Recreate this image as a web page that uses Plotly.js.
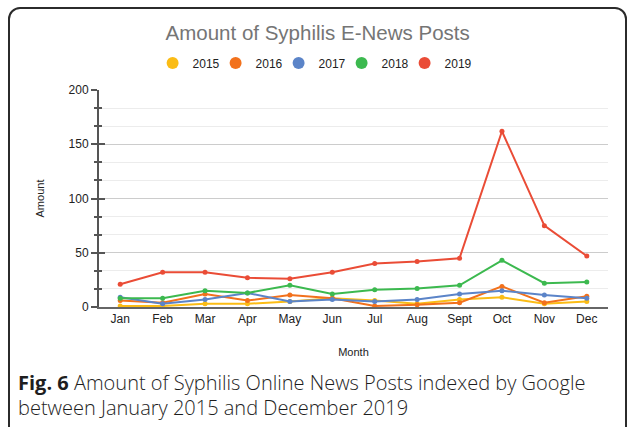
<!DOCTYPE html>
<html>
<head>
<meta charset="utf-8">
<script src="https://cdn.plot.ly/plotly-3.0.1.min.js"></script>
<style>
  html, body { margin: 0; padding: 0; background: #fff; width: 629px; height: 427px; overflow: hidden; }
  #frame { position: absolute; left: 8px; top: 7px; width: 619px; height: 470px; border: 2px solid #2b2b2b; border-radius: 12px; box-sizing: border-box; }
  #chart { position: absolute; left: 0; top: 0; width: 629px; height: 427px; }
  #caption { position: absolute; left: 18px; top: 370px; font-family: "Open Sans", sans-serif; font-weight: 300; font-size: 20px; line-height: 25px; color: #1e1e1e; }
  #caption b { font-weight: 700; }
</style>
</head>
<body>
<div id="frame"></div>
<div id="chart"></div>
<div id="caption"><b>Fig. 6</b> Amount of Syphilis Online News Posts indexed by Google<br>between January 2015 and December 2019</div>
<script>
// Monthly counts of syphilis e-news posts, one series per year
const months = ['Jan', 'Feb', 'Mar', 'Apr', 'May', 'Jun', 'Jul', 'Aug', 'Sept', 'Oct', 'Nov', 'Dec'];
const years = ['2015', '2016', '2017', '2018', '2019'];
const posts2015 = [1, 1, 3, 3, 5, 8, 6, 3, 7, 9, 3, 5];
const posts2016 = [6, 4, 12, 6, 11, 8, 1, 2, 4, 19, 4, 10];
const posts2017 = [9, 3, 7, 13, 5, 7, 5, 7, 12, 15, 11, 8];
const posts2018 = [8, 8, 15, 13, 20, 12, 16, 17, 20, 43, 22, 23];
const posts2019 = [21, 32, 32, 27, 26, 32, 40, 42, 45, 162, 75, 47];
const yTicks = [0, 50, 100, 150, 200];

const series = [posts2015, posts2016, posts2017, posts2018, posts2019];
const colors = ['#fbbc15', '#f2711c', '#5b84c8', '#3cb94f', '#ea4c36'];

const traces = [];
series.forEach((vals, i) => {
  traces.push({
    type: 'scatter', mode: 'lines+markers',
    x: months, y: vals, name: years[i],
    legendgroup: years[i], showlegend: false,
    line: { color: colors[i], width: 2 },
    marker: { color: colors[i], size: 5 },
    hovertemplate: '%{x}: %{y}<extra>' + years[i] + '</extra>'
  });
});
// Legend entries shown as plain dots
years.forEach((yr, i) => {
  traces.push({
    type: 'scatter', mode: 'markers',
    x: [null], y: [null], name: yr, legendgroup: yr,
    yaxis: 'y2',
    marker: { color: colors[i], size: 12 },
    hoverinfo: 'skip'
  });
});

const tickStyle = { tickcolor: '#555', tickwidth: 2, ticklen: 6 };
const minorStep = 50 / 3;

const layout = {
  width: 629, height: 427,
  margin: { l: 99, r: 21, t: 90, b: 120 },
  paper_bgcolor: 'rgba(0,0,0,0)', plot_bgcolor: 'rgba(0,0,0,0)',
  font: { family: '"Liberation Sans", Arial, sans-serif', size: 12, color: '#222' },
  title: {
    text: 'Amount of Syphilis E-News Posts',
    font: { size: 20.5, color: '#757575' },
    xref: 'container', x: 0.505, xanchor: 'center',
    yref: 'container', y: 1 - 33 / 427, yanchor: 'middle'
  },
  showlegend: true,
  legend: {
    orientation: 'h',
    xref: 'container', x: 0.493, xanchor: 'center',
    yref: 'container', y: 1 - 63 / 427, yanchor: 'middle',
    font: { size: 12, color: '#222' },
    entrywidth: 18, entrywidthmode: 'pixels',
    itemclick: 'toggleothers'
  },
  xaxis: {
    type: 'category', categoryarray: months, range: [-0.5, 11.5],
    showgrid: false, zeroline: false,
    showline: true, linecolor: '#666', linewidth: 2,
    ticks: '', tickfont: { size: 12, color: '#222' },
    title: { text: 'Month', font: { size: 11, color: '#222' }, standoff: 23 },
    fixedrange: true
  },
  yaxis: {
    range: [0, 200], tickvals: yTicks,
    showline: true, linecolor: '#555', linewidth: 2,
    ticks: 'outside', ...tickStyle,
    tickfont: { size: 12, color: '#222' },
    showgrid: true, gridcolor: '#cccccc', gridwidth: 1,
    zeroline: false,
    minor: { dtick: minorStep, tick0: 0, ticks: 'outside', ticklen: 3, tickwidth: 1.5, tickcolor: '#555', showgrid: true, gridcolor: '#ececec' },
    title: { text: 'Amount', font: { size: 11, color: '#222' }, standoff: 22 },
    fixedrange: true
  },
  yaxis2: {
    overlaying: 'y', side: 'left', anchor: 'x',
    range: [0, 200], tickvals: yTicks,
    ticks: 'inside', ...tickStyle,
    minor: { dtick: minorStep, tick0: 0, ticks: 'inside', ticklen: 3, tickwidth: 1.5, tickcolor: '#555', showgrid: false },
    showticklabels: false, showgrid: false, zeroline: false, showline: false,
    fixedrange: true
  }
};

// Compact legend entries: let the last label run past the packed legend box
function unclipLegend() {
  document.querySelectorAll('#chart .legend .scrollbox, #chart .legend').forEach(el => el.removeAttribute('clip-path'));
}

Plotly.newPlot('chart', traces, layout, { displayModeBar: false }).then(gd => {
  unclipLegend();
  gd.on('plotly_afterplot', unclipLegend);
});
</script>
</body>
</html>
